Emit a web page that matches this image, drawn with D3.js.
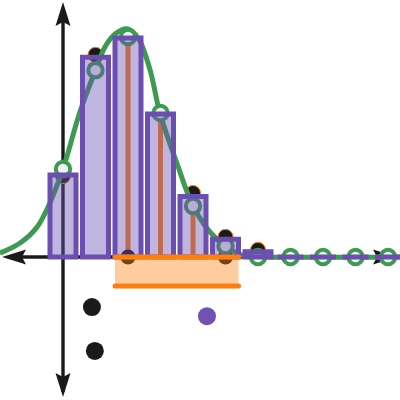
<!DOCTYPE html>
<html>
<head>
<meta charset="utf-8">
<script src="https://cdn.jsdelivr.net/npm/d3@7"></script>
<style>
  html, body { margin: 0; padding: 0; background: #fff; }
  svg { display: block; }
</style>
</head>
<body>
<div id="chart"></div>
<script>
// values (axis units)
const xValues = [0, 1, 2, 3, 4, 5, 6, 7, 8, 9, 10];
const barHeights = [2.52, 6.15, 6.74, 4.40, 1.86, 0.55, 0.16, 0, 0, 0, 0];
const circleHeights = [2.71, 5.75, 6.77, 4.43, 1.57, 0.34, 0, 0, 0, 0, 0];
const dotX = [0, 1, 2, 3, 4, 5, 6];
const dotHeights = [2.49, 6.22, 6.80, 4.45, 1.97, 0.62, 0.22];
const rangeDotX = [2, 5];
const stemX = [2, 3, 4];
const stemHeights = [6.74, 4.40, 1.60];
const curveX = [-1.94, -1.32, -0.80, -0.46, 0, 0.52, 1.0, 1.29, 1.60, 1.97, 2.31, 2.68, 2.98, 3.5, 4.0, 4.52, 5.02, 5.6, 6.2, 10.4];
const curveY = [0.12, 0.43, 0.92, 1.54, 2.71, 4.46, 5.75, 6.46, 6.86, 7.02, 6.74, 5.75, 4.43, 2.90, 1.57, 0.77, 0.31, 0.03, 0, 0];
const bandX = [1.6, 5.4];
const bandY = [0, -0.89];
const blackPts = [[0.89, -1.54], [0.98, -2.89]];
const purplePts = [[4.43, -1.82]];

const width = 400, height = 400;
const purple = "#6a4fb0", green = "#3d9a50", orange = "#ff7f0e", ink = "#1a1a1a";

const x = d3.scaleLinear().domain([0, 10]).range([63, 388]);
const y = d3.scaleLinear().domain([0, 7]).range([257, 29.5]);
const half = 0.4;

const svg = d3.select("#chart").append("svg")
    .attr("width", width)
    .attr("height", height);

// axes with arrow heads at both ends
function arrow(tx, ty, angle) {
    svg.append("path")
        .attr("d", "M0,0 L-24,-7.5 L-20,0 L-24,7.5 Z")
        .attr("transform", "translate(" + tx + "," + ty + ") rotate(" + angle + ")")
        .attr("fill", ink);
}
svg.append("line")
    .attr("x1", 8).attr("x2", width - 8)
    .attr("y1", y(0)).attr("y2", y(0))
    .attr("stroke", ink).attr("stroke-width", 3.4);
svg.append("line")
    .attr("x1", x(0)).attr("x2", x(0))
    .attr("y1", 8).attr("y2", height - 8)
    .attr("stroke", ink).attr("stroke-width", 3.4);
arrow(2, y(0), 180);
arrow(width - 3, y(0), 0);
arrow(x(0), 2, -90);
arrow(x(0), height - 3, 90);

// orange stems
svg.selectAll("line.stem")
    .data(stemX)
    .enter().append("line")
    .attr("class", "stem")
    .attr("x1", d => x(d)).attr("x2", d => x(d))
    .attr("y1", y(0))
    .attr("y2", (d, i) => y(stemHeights[i]))
    .attr("stroke", orange)
    .attr("stroke-width", 5);

// dark points
svg.selectAll("circle.dot")
    .data(dotX)
    .enter().append("circle")
    .attr("class", "dot")
    .attr("cx", d => x(d))
    .attr("cy", (d, i) => y(dotHeights[i]))
    .attr("r", 7.5)
    .attr("fill", ink)
    .attr("stroke", orange)
    .attr("stroke-width", 1);
svg.selectAll("circle.rdot")
    .data(rangeDotX)
    .enter().append("circle")
    .attr("class", "rdot")
    .attr("cx", d => x(d))
    .attr("cy", y(0))
    .attr("r", 7.5)
    .attr("fill", ink);

// green curve
const line = d3.line()
    .x(d => x(d[0]))
    .y(d => y(d[1]))
    .curve(d3.curveCatmullRom);
svg.append("path")
    .datum(curveX.map((d, i) => [d, curveY[i]]))
    .attr("d", line)
    .attr("fill", "none")
    .attr("stroke", green)
    .attr("stroke-width", 5);

// green hollow points
svg.selectAll("circle.pt")
    .data(xValues)
    .enter().append("circle")
    .attr("class", "pt")
    .attr("cx", d => x(d))
    .attr("cy", (d, i) => y(circleHeights[i]))
    .attr("r", 7.2)
    .attr("fill", "#eef3ef")
    .attr("stroke", green)
    .attr("stroke-width", 4);

// purple bars
svg.selectAll("path.bar")
    .data(xValues)
    .enter().append("path")
    .attr("class", "bar")
    .attr("d", (d, i) => {
        const x0 = x(d - half), x1 = x(d + half), y0 = y(0), y1 = y(barHeights[i]);
        return "M" + x0 + "," + y0 + "V" + y1 + "H" + x1 + "V" + y0 + "Z";
    })
    .attr("fill", purple)
    .attr("fill-opacity", 0.42)
    .attr("stroke", purple)
    .attr("stroke-width", 5);

// orange band
svg.append("rect")
    .attr("x", x(bandX[0]))
    .attr("y", y(bandY[0]))
    .attr("width", x(bandX[1]) - x(bandX[0]))
    .attr("height", y(bandY[1]) - y(bandY[0]))
    .attr("fill", orange)
    .attr("fill-opacity", 0.4);
svg.selectAll("line.band")
    .data(bandY)
    .enter().append("line")
    .attr("class", "band")
    .attr("x1", x(bandX[0])).attr("x2", x(bandX[1]))
    .attr("y1", d => y(d)).attr("y2", d => y(d))
    .attr("stroke", orange)
    .attr("stroke-width", 5)
    .attr("stroke-linecap", "round");

// loose points below the axis
svg.selectAll("circle.black")
    .data(blackPts)
    .enter().append("circle")
    .attr("class", "black")
    .attr("cx", d => x(d[0]))
    .attr("cy", d => y(d[1]))
    .attr("r", 9)
    .attr("fill", ink);
svg.selectAll("circle.purple")
    .data(purplePts)
    .enter().append("circle")
    .attr("class", "purple")
    .attr("cx", d => x(d[0]))
    .attr("cy", d => y(d[1]))
    .attr("r", 9)
    .attr("fill", "#7052b2");
</script>
</body>
</html>
